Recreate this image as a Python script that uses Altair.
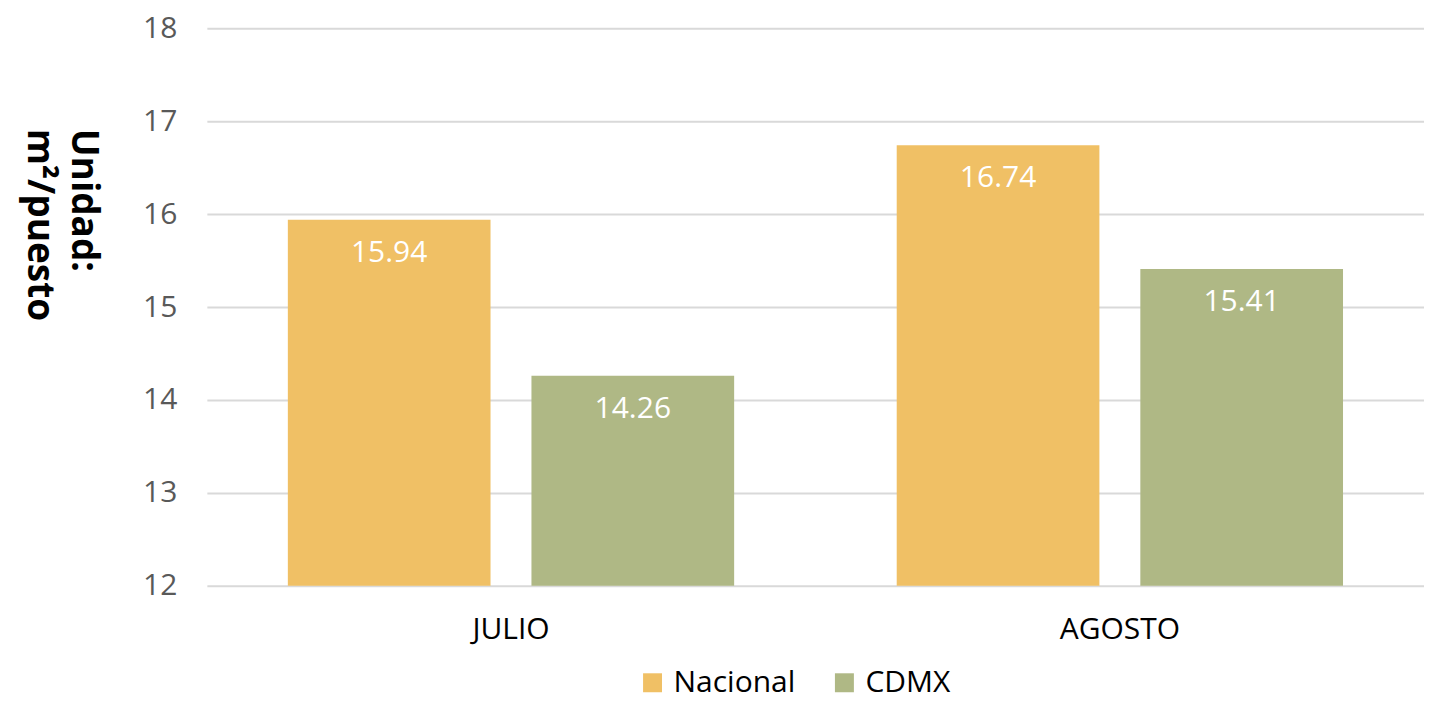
import altair as alt
import pandas as pd

months = ["JULIO", "AGOSTO"]
series = ["Nacional", "CDMX"]
nacional = [15.94, 16.74]
cdmx = [14.26, 15.41]
colors = ["#F0C065", "#AFB885"]

rows = []
for i, m in enumerate(months):
    rows.append({"mes": m, "serie": "Nacional", "valor": nacional[i]})
    rows.append({"mes": m, "serie": "CDMX", "valor": cdmx[i]})
df = pd.DataFrame(rows)

FONT = "Open Sans"

x = alt.X("mes:N", sort=months, title=None,
          scale=alt.Scale(paddingInner=0.267, paddingOuter=0.133),
          axis=alt.Axis(labelAngle=0, labelFontSize=30, labelColor="#000000",
                        labelFont=FONT, domain=False, ticks=False, labelPadding=29,
                        grid=False))
xo = alt.XOffset("serie:N", sort=series, scale=alt.Scale(paddingInner=0.168, paddingOuter=0))
y = alt.Y("valor:Q", scale=alt.Scale(domain=[12, 18], zero=False, nice=False),
          axis=alt.Axis(values=[12, 13, 14, 15, 16, 17, 18], format="d", labelFontSize=30,
                        labelColor="#595959", labelFont=FONT, domain=False, ticks=False,
                        labelPadding=30, gridColor="#d9d9d9", gridWidth=2,
                        title=["Unidad:", "m²/puesto"], titleAngle=90,
                        titleFont=FONT, titleFontSize=37, titleFontWeight="bold",
                        titleColor="#000000", titleAlign="left", titleBaseline="alphabetic",
                        titleX=-135, titleY=100, titleLineHeight=44))

bars = alt.Chart(df).mark_bar().encode(
    x=x, xOffset=xo, y=y, y2=alt.datum(12),
    color=alt.Color("serie:N", sort=series,
                    scale=alt.Scale(domain=series, range=colors),
                    legend=alt.Legend(title=None, orient="none", direction="horizontal",
                                      legendX=431, legendY=640, symbolType="square",
                                      symbolSize=360, symbolStrokeWidth=0,
                                      labelFontSize=30, labelFont=FONT,
                                      labelColor="#000000", columnPadding=34,
                                      labelOffset=6)),
)

labels = alt.Chart(df).mark_text(color="white", fontSize=30, font=FONT,
                                 baseline="middle", dy=33).encode(
    x=alt.X("mes:N", sort=months), xOffset=alt.XOffset("serie:N", sort=series),
    y="valor:Q", text=alt.Text("valor:Q", format=".2f"),
)

chart = alt.layer(bars, labels).properties(
    width=1218, height=558,
    autosize=alt.AutoSizeParams(type="none"),
    padding={"left": 199, "top": 20, "right": 0, "bottom": 110},
).configure_view(stroke=None)

chart.save("out.html", embed_options={"renderer": "svg", "actions": False})
